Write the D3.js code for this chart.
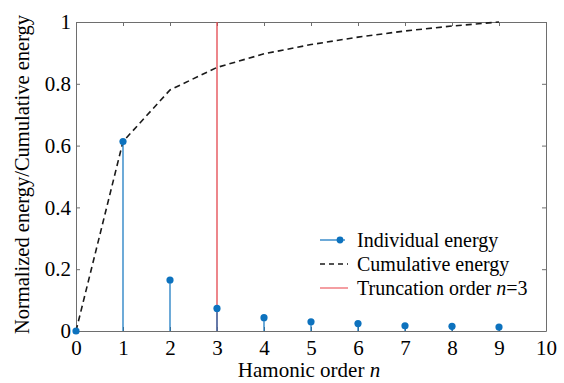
<!DOCTYPE html>
<html><head><meta charset="utf-8">
<script src="https://cdn.jsdelivr.net/npm/d3@7"></script>
<style>body{margin:0;background:#fff}svg{display:block}</style>
</head><body><svg id="c" width="564" height="383"></svg>
<script>
const orders = [0,1,2,3,4,5,6,7,8,9];
const individual = [0,0.613,0.165,0.073,0.043,0.030,0.024,0.017,0.015,0.013];
const cumulative = [0,0.613,0.78,0.853,0.897,0.927,0.951,0.971,0.987,1.0];
const truncation = 3;
const xTicks = [0,1,2,3,4,5,6,7,8,9,10];
const yTicks = [0,0.2,0.4,0.6,0.8,1];
const legendLabels = ["Individual energy","Cumulative energy","Truncation order "];

const FONT = "'Liberation Serif', 'Times New Roman', Times, serif";
const svg = d3.select("#c");
const L=76,R=546,T=22,B=331;
const x = d3.scaleLinear().domain([0,10]).range([L,R]);
const y = d3.scaleLinear().domain([0,1]).range([B,T]);
const axisCol="#6e6e6e";
const fmt = d=> d===0?"0":(d===1?"1":d3.format(".1f")(d));

// axes
const gx=svg.append("g").attr("transform",`translate(0,${B})`).call(d3.axisBottom(x).tickValues(xTicks).tickSizeInner(-4).tickSizeOuter(0).tickPadding(9).tickFormat(d3.format("d")));
const gy=svg.append("g").attr("transform",`translate(${L},0)`).call(d3.axisLeft(y).tickValues(yTicks).tickSizeInner(-4).tickSizeOuter(0).tickPadding(5).tickFormat(fmt));
const gx2=svg.append("g").attr("transform",`translate(0,${T})`).call(d3.axisTop(x).tickValues(xTicks).tickSizeInner(-4).tickSizeOuter(0).tickFormat(""));
const gy2=svg.append("g").attr("transform",`translate(${R},0)`).call(d3.axisRight(y).tickValues(yTicks).tickSizeInner(-4).tickSizeOuter(0).tickFormat(""));
[gx,gy,gx2,gy2].forEach(g=>{g.attr("font-family",null).attr("font-size",null);g.selectAll("path,line").attr("stroke",axisCol);g.selectAll("text").style("font-family",FONT).style("font-size","21px").attr("fill","#000");});

// truncation line
svg.append("line").attr("x1",x(truncation)).attr("x2",x(truncation)).attr("y1",y(0)).attr("y2",y(1)).attr("stroke","#e4464d").attr("stroke-width",1.3);

// cumulative
svg.append("path").datum(orders.map((o,i)=>[o,cumulative[i]]))
 .attr("d",d3.line().x(d=>x(d[0])).y(d=>y(d[1])))
 .attr("fill","none").attr("stroke","#1a1a1a").attr("stroke-width",1.6).attr("stroke-dasharray","6,4");

// stems
const blue="#0d72be";
svg.selectAll(".stem").data(orders).enter().append("line")
 .attr("x1",d=>x(d)).attr("x2",d=>x(d)).attr("y1",y(0)).attr("y2",(d,i)=>y(individual[i]))
 .attr("stroke",blue).attr("stroke-width",1.2);
svg.selectAll(".dot").data(orders).enter().append("circle")
 .attr("cx",d=>x(d)).attr("cy",(d,i)=>y(individual[i])).attr("r",3.6).attr("fill",blue);

// legend
const lg=svg.append("g");
const ly=[240,264,288];
lg.append("line").attr("x1",320).attr("x2",345).attr("y1",ly[0]).attr("y2",ly[0]).attr("stroke",blue).attr("stroke-width",1.2);
lg.append("circle").attr("cx",340).attr("cy",ly[0]).attr("r",3.4).attr("fill",blue);
lg.append("line").attr("x1",320).attr("x2",348).attr("y1",ly[1]).attr("y2",ly[1]).attr("stroke","#1a1a1a").attr("stroke-width",1.6).attr("stroke-dasharray","5,4");
lg.append("line").attr("x1",320).attr("x2",348).attr("y1",ly[2]).attr("y2",ly[2]).attr("stroke","#ee6a70").attr("stroke-width",1.3);
legendLabels.forEach((t,i)=>{
 const tx=lg.append("text").attr("x",357).attr("y",ly[i]+6.5).style("font-family",FONT).style("font-size","20px").text(t);
 if(i===2){tx.append("tspan").attr("font-style","italic").text("n");tx.append("tspan").text("=3");}
});

// axis titles
const xt=svg.append("text").attr("x",309).attr("y",377).attr("text-anchor","middle").style("font-family",FONT).style("font-size","21px").text("Hamonic order ");
xt.append("tspan").attr("font-style","italic").text("n");
svg.append("text").attr("transform",`translate(29,${(T+B)/2-2}) rotate(-90)`).attr("text-anchor","middle").style("font-family",FONT).style("font-size","20.5px").text("Normalized energy/Cumulative energy");
</script></body></html>
